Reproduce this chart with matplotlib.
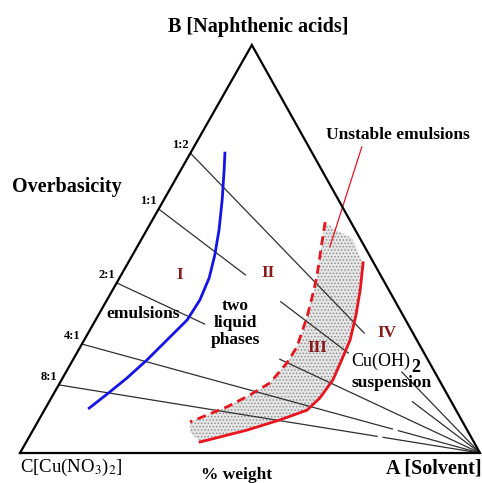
import matplotlib
matplotlib.use("Agg")
import matplotlib.pyplot as plt
import numpy as np

plt.rcParams['font.family'] = ['Liberation Serif', 'DejaVu Serif']
plt.rcParams['mathtext.fontset'] = 'stix'
plt.rcParams['hatch.linewidth'] = 0.7

# ternary data, % weight: a = solvent (A), b = naphthenic acids (B), rest = Cu(NO3)2 (C)
ratio_labels = ['1:2', '1:1', '2:1', '4:1', '8:1']
ratio_b = [73.5, 59.8, 41.7, 26.7, 16.7]          # where each tie line leaves the C-B side
# drawn parts of each tie line (0 = C-B side, 1 = vertex A)
tie_parts = [
    [(0, 0.60), (0.73, 1)],
    [(0, 0.27), (0.38, 0.59), (0.79, 1)],
    [(0, 0.242), (0.449, 1)],
    [(0, 0.78), (0.795, 1)],
    [(0, 0.756), (0.77, 1)],
]

# boundary I / II (blue)
blue_a = [7.5, 9.4, 12.7, 15.7, 17.9, 19.5, 20.2, 19.9, 18.0, 16.1, 14.0, 12.0, 9.5]
blue_b = [73.5, 69.4, 62.0, 54.7, 48.5, 42.9, 37.5, 32.6, 27.7, 22.8, 18.4, 15.0, 11.0]
# boundary II / III (red dashed)
dash_a = [37.8, 40.3, 42.8, 44.3, 45.6, 47.1, 46.9, 45.7, 42.8, 39.3, 33.1]
dash_b = [56.6, 49.8, 43.1, 38.0, 33.3, 26.0, 22.1, 17.2, 14.2, 11.3, 7.6]
# boundary III / IV (red solid)
solid_a = [51.1, 53.8, 56.0, 57.8, 58.5, 59.0, 58.4, 57.1, 52.4, 46.5, 37.8]
solid_b = [46.6, 40.0, 33.8, 27.7, 22.3, 17.9, 13.5, 10.5, 8.1, 5.6, 2.7]
# extra corners of the stippled (unstable emulsion) band
band_top_a = [45.6, 41.7]
band_top_b = [52.7, 54.4]
band_low_a = [34.4]
band_low_b = [5.1]
# pointer of "Unstable emulsions"
pointer_a = [36.5, 41.9]
pointer_b = [75.0, 50.5]

BX = 0.504  # horizontal position of vertex B (base C->A = 0..1)


def tern(a, b):
    a = np.asarray(a, float) / 100
    b = np.asarray(b, float) / 100
    return a + BX * b, b


fig = plt.figure(figsize=(4.82, 4.83), dpi=100)
ax = fig.add_axes([0, 0, 1, 1])
ax.set_xlim(-20 / 460, 462 / 460)
ax.set_ylim(-30 / 408, 453 / 408)
ax.axis('off')

# stippled band
ba = dash_a + band_low_a + solid_a[::-1] + band_top_a
bb = dash_b + band_low_b + solid_b[::-1] + band_top_b
bx, by = tern(ba, bb)
ax.fill(bx, by, facecolor='#e6e6e6', edgecolor='#909090', hatch='.....', linewidth=0, zorder=1)

# tie lines
for b0, parts in zip(ratio_b, tie_parts):
    for t0, t1 in parts:
        t = np.array([t0, t1])
        x, y = tern(100 * t, b0 * (1 - t))
        ax.plot(x, y, color='#303030', lw=0.9, zorder=2)

# triangle
tx, ty = tern([0, 100, 0, 0], [0, 0, 100, 0])
ax.plot(tx, ty, color='black', lw=1.6, zorder=4, solid_joinstyle='miter')

x, y = tern(blue_a, blue_b)
ax.plot(x, y, color='#1414e6', lw=2.0, zorder=3)
x, y = tern(dash_a, dash_b)
ax.plot(x, y, color='#e8141e', lw=2.0, dashes=(3.2, 2.0), zorder=3)
x, y = tern(solid_a, solid_b)
ax.plot(x, y, color='#e8141e', lw=2.0, zorder=3)
x, y = tern(pointer_a, pointer_b)
ax.plot(x, y, color='#e8141e', lw=0.9, zorder=3)

# ratio labels on the C-B side
for lab, b0 in zip(ratio_labels, ratio_b):
    x, y = tern(0, b0)
    ax.text(x - 0.004, y + 0.004, lab, ha='right', va='bottom', fontsize=9,
            fontweight='bold', zorder=5)


def px(x, y):
    return x / 482, 1 - y / 483


T = ax.transAxes
dark_red = '#8b1a1a'
ax.text(*px(258, 27), 'B [Naphthenic acids]', transform=T, ha='center', va='center',
        fontsize=14.5, fontweight='bold')
ax.text(*px(12, 187), 'Overbasicity', transform=T, ha='left', va='center',
        fontsize=14.5, fontweight='bold')
ax.text(*px(398, 135), 'Unstable emulsions', transform=T, ha='center', va='center',
        fontsize=12.5, fontweight='bold')
ax.text(*px(143, 314), 'emulsions', transform=T, ha='center', va='center',
        fontsize=12.5, fontweight='bold')
ax.text(*px(235, 323), 'two\nliquid\nphases', transform=T, ha='center', va='center',
        fontsize=12.5, fontweight='bold', linespacing=1.1)
ax.text(*px(351, 361), 'Cu(OH)', transform=T, ha='left', va='center', fontsize=13)
ax.text(*px(411, 367), '2', transform=T, ha='left', va='center', fontsize=13,
        fontweight='bold')
ax.text(*px(352, 383), 'suspension', transform=T, ha='left', va='center', fontsize=12.5,
        fontweight='bold')
ax.text(*px(20, 467), r'C[Cu(NO$_3$)$_2$]', transform=T, ha='left', va='center', fontsize=13.5)
ax.text(*px(237, 475), '% weight', transform=T, ha='center', va='center', fontsize=12.5,
        fontweight='bold')
ax.text(*px(386, 468), 'A [Solvent]', transform=T, ha='left', va='center', fontsize=14.5,
        fontweight='bold')
for lab, (x0, y0) in zip(['I', 'II', 'III', 'IV'], [(180, 275), (268, 273), (317, 348), (387, 333)]):
    ax.text(*px(x0, y0), lab, transform=T, ha='center', va='center', fontsize=12.5,
            fontweight='bold', color=dark_red)

fig.savefig('out.png', dpi=100)
